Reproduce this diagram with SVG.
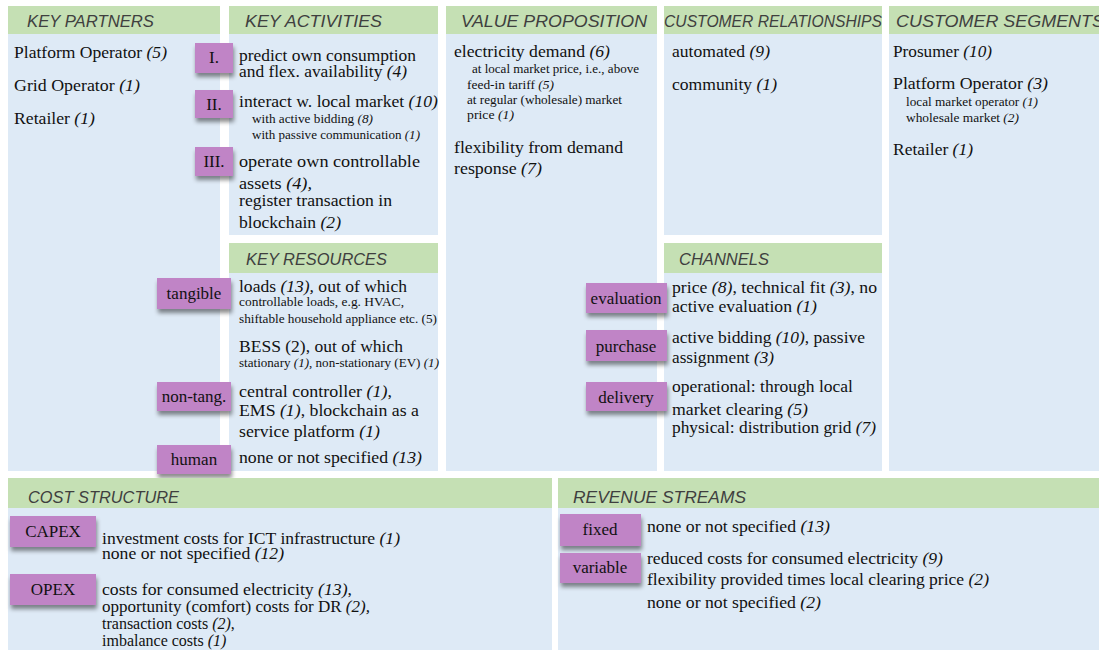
<svg xmlns="http://www.w3.org/2000/svg" width="1099" height="650" viewBox="0 0 1099 650">
<defs>
<filter id="sh" x="-20%" y="-20%" width="150%" height="170%">
<feDropShadow dx="1" dy="4" stdDeviation="2.2" flood-color="#000" flood-opacity="0.45"/>
</filter>
</defs>
<style>
.hd{fill:#C5E0B4}
.bd{fill:#DEEAF6}
.ht{font-family:"Liberation Sans",Arial,sans-serif;font-style:italic;font-size:17px;fill:#3F3F3F}
.t{font-family:"Liberation Serif","Times New Roman",serif;font-size:17px;fill:#111}
.c{font-family:"Liberation Serif","Times New Roman",serif;font-size:16px;fill:#111}
.s{font-family:"Liberation Serif","Times New Roman",serif;font-size:12.5px;fill:#111}
.i{font-style:italic}
.tag{fill:#C084C6;filter:url(#sh)}
.tt{font-family:"Liberation Serif","Times New Roman",serif;font-size:17px;fill:#111;text-anchor:middle}
</style>
<rect width="1099" height="650" fill="#FFFFFF"/>

<g id="key-partners">
<rect class="bd" x="8" y="6" width="212" height="465"/>
<rect class="hd" x="8" y="6" width="212" height="28"/>
<text class="ht" x="27" y="27" textLength="127" lengthAdjust="spacingAndGlyphs">KEY PARTNERS</text>
<text class="t" x="14" y="58" textLength="153" lengthAdjust="spacingAndGlyphs">Platform Operator <tspan class="i">(5)</tspan></text>
<text class="t" x="14" y="91" textLength="126" lengthAdjust="spacingAndGlyphs">Grid Operator <tspan class="i">(1)</tspan></text>
<text class="t" x="14" y="124" textLength="81" lengthAdjust="spacingAndGlyphs">Retailer <tspan class="i">(1)</tspan></text>
</g>

<g id="key-activities">
<rect class="bd" x="229" y="6" width="209" height="229"/>
<rect class="hd" x="229" y="6" width="209" height="28"/>
<text class="ht" x="245" y="27" textLength="137" lengthAdjust="spacingAndGlyphs">KEY ACTIVITIES</text>
<text class="t" x="239" y="61" textLength="177" lengthAdjust="spacingAndGlyphs">predict own consumption</text>
<text class="t" x="239" y="77" textLength="168" lengthAdjust="spacingAndGlyphs">and flex. availability <tspan class="i">(4)</tspan></text>
<text class="t" x="239" y="107" textLength="199" lengthAdjust="spacingAndGlyphs">interact w. local market <tspan class="i">(10)</tspan></text>
<text class="s" x="252" y="123" textLength="121" lengthAdjust="spacingAndGlyphs">with active bidding <tspan class="i">(8)</tspan></text>
<text class="s" x="252" y="139" textLength="168" lengthAdjust="spacingAndGlyphs">with passive communication <tspan class="i">(1)</tspan></text>
<text class="t" x="239" y="167" textLength="181" lengthAdjust="spacingAndGlyphs">operate own controllable</text>
<text class="t" x="239" y="189" textLength="73" lengthAdjust="spacingAndGlyphs">assets <tspan class="i">(4),</tspan></text>
<text class="t" x="239" y="206" textLength="153" lengthAdjust="spacingAndGlyphs">register transaction in</text>
<text class="t" x="239" y="228" textLength="102" lengthAdjust="spacingAndGlyphs">blockchain <tspan class="i">(2)</tspan></text>
</g>
<g id="tag-I"><rect class="tag" x="195" y="43" width="38" height="30"/><text class="tt" x="214" y="63">I.</text></g>
<g id="tag-II"><rect class="tag" x="195" y="90" width="38" height="28"/><text class="tt" x="214" y="110">II.</text></g>
<g id="tag-III"><rect class="tag" x="195" y="147" width="38" height="29"/><text class="tt" x="214" y="167">III.</text></g>

<g id="key-resources">
<rect class="bd" x="229" y="243" width="209" height="228"/>
<rect class="hd" x="229" y="243" width="209" height="30"/>
<text class="ht" x="246" y="265" textLength="141" lengthAdjust="spacingAndGlyphs">KEY RESOURCES</text>
<text class="t" x="239" y="292" textLength="168" lengthAdjust="spacingAndGlyphs">loads <tspan class="i">(13),</tspan> out of which</text>
<text class="s" x="239" y="306" textLength="165" lengthAdjust="spacingAndGlyphs">controllable loads, e.g. HVAC,</text>
<text class="s" x="239" y="323" textLength="198" lengthAdjust="spacingAndGlyphs">shiftable household appliance etc. (5)</text>
<text class="t" x="239" y="352" textLength="164" lengthAdjust="spacingAndGlyphs">BESS (2), out of which</text>
<text class="s" x="239" y="367" textLength="200" lengthAdjust="spacingAndGlyphs">stationary <tspan class="i">(1)</tspan>, non-stationary (EV) <tspan class="i">(1)</tspan></text>
<text class="t" x="239" y="397" textLength="153" lengthAdjust="spacingAndGlyphs">central controller <tspan class="i">(1)</tspan>,</text>
<text class="t" x="239" y="416" textLength="180" lengthAdjust="spacingAndGlyphs">EMS <tspan class="i">(1)</tspan>, blockchain as a</text>
<text class="t" x="239" y="437" textLength="141" lengthAdjust="spacingAndGlyphs">service platform <tspan class="i">(1)</tspan></text>
<text class="t" x="239" y="463" textLength="183" lengthAdjust="spacingAndGlyphs">none or not specified <tspan class="i">(13)</tspan></text>
</g>
<g id="tag-tangible"><rect class="tag" x="157" y="278" width="74" height="31"/><text class="tt" x="194" y="299">tangible</text></g>
<g id="tag-nontang"><rect class="tag" x="157" y="382" width="74" height="29"/><text class="tt" x="194" y="402">non-tang.</text></g>
<g id="tag-human"><rect class="tag" x="157" y="445" width="74" height="29"/><text class="tt" x="194" y="465">human</text></g>

<g id="value-proposition">
<rect class="bd" x="446" y="6" width="211" height="465"/>
<rect class="hd" x="446" y="6" width="211" height="28"/>
<text class="ht" x="461" y="27" textLength="186" lengthAdjust="spacingAndGlyphs">VALUE PROPOSITION</text>
<text class="t" x="454" y="57" textLength="156" lengthAdjust="spacingAndGlyphs">electricity demand <tspan class="i">(6)</tspan></text>
<text class="s" x="472" y="73" textLength="167" lengthAdjust="spacingAndGlyphs">at local market price, i.e., above</text>
<text class="s" x="467" y="89" textLength="87" lengthAdjust="spacingAndGlyphs">feed-in tariff <tspan class="i">(5)</tspan></text>
<text class="s" x="467" y="104" textLength="155" lengthAdjust="spacingAndGlyphs">at regular (wholesale) market</text>
<text class="s" x="467" y="119" textLength="47" lengthAdjust="spacingAndGlyphs">price <tspan class="i">(1)</tspan></text>
<text class="t" x="454" y="153" textLength="169" lengthAdjust="spacingAndGlyphs">flexibility from demand</text>
<text class="t" x="454" y="174" textLength="88" lengthAdjust="spacingAndGlyphs">response <tspan class="i">(7)</tspan></text>
</g>

<g id="customer-relationships">
<rect class="bd" x="664" y="6" width="218" height="229"/>
<rect class="hd" x="664" y="6" width="218" height="28"/>
<text class="ht" x="664" y="27" textLength="218" lengthAdjust="spacingAndGlyphs">CUSTOMER RELATIONSHIPS</text>
<text class="t" x="672" y="57" textLength="98" lengthAdjust="spacingAndGlyphs">automated <tspan class="i">(9)</tspan></text>
<text class="t" x="672" y="90" textLength="105" lengthAdjust="spacingAndGlyphs">community <tspan class="i">(1)</tspan></text>
</g>

<g id="channels">
<rect class="bd" x="664" y="243" width="218" height="228"/>
<rect class="hd" x="664" y="243" width="218" height="30"/>
<text class="ht" x="679" y="265" textLength="90" lengthAdjust="spacingAndGlyphs">CHANNELS</text>
<text class="t" x="672" y="293" textLength="205" lengthAdjust="spacingAndGlyphs">price <tspan class="i">(8)</tspan>, technical fit <tspan class="i">(3)</tspan>, no</text>
<text class="t" x="672" y="312" textLength="145" lengthAdjust="spacingAndGlyphs">active evaluation <tspan class="i">(1)</tspan></text>
<text class="t" x="672" y="343" textLength="193" lengthAdjust="spacingAndGlyphs">active bidding <tspan class="i">(10)</tspan>, passive</text>
<text class="t" x="672" y="363" textLength="102" lengthAdjust="spacingAndGlyphs">assignment <tspan class="i">(3)</tspan></text>
<text class="t" x="672" y="392" textLength="181" lengthAdjust="spacingAndGlyphs">operational: through local</text>
<text class="t" x="672" y="415" textLength="136" lengthAdjust="spacingAndGlyphs">market clearing <tspan class="i">(5)</tspan></text>
<text class="t" x="672" y="433" textLength="204" lengthAdjust="spacingAndGlyphs">physical: distribution grid <tspan class="i">(7)</tspan></text>
</g>
<g id="tag-evaluation"><rect class="tag" x="586" y="283" width="81" height="30"/><text class="tt" x="626" y="304">evaluation</text></g>
<g id="tag-purchase"><rect class="tag" x="586" y="330" width="81" height="31"/><text class="tt" x="626" y="352">purchase</text></g>
<g id="tag-delivery"><rect class="tag" x="586" y="382" width="81" height="29"/><text class="tt" x="626" y="403">delivery</text></g>

<g id="customer-segments">
<rect class="bd" x="889" y="6" width="210" height="465"/>
<rect class="hd" x="889" y="6" width="210" height="28"/>
<text class="ht" x="896" y="27" textLength="208" lengthAdjust="spacingAndGlyphs">CUSTOMER SEGMENTS</text>
<text class="t" x="893" y="57" textLength="99" lengthAdjust="spacingAndGlyphs">Prosumer <tspan class="i">(10)</tspan></text>
<text class="t" x="893" y="89" textLength="155" lengthAdjust="spacingAndGlyphs">Platform Operator <tspan class="i">(3)</tspan></text>
<text class="s" x="906" y="106" textLength="132" lengthAdjust="spacingAndGlyphs">local market operator <tspan class="i">(1)</tspan></text>
<text class="s" x="906" y="122" textLength="113" lengthAdjust="spacingAndGlyphs">wholesale market <tspan class="i">(2)</tspan></text>
<text class="t" x="893" y="155" textLength="80" lengthAdjust="spacingAndGlyphs">Retailer <tspan class="i">(1)</tspan></text>
</g>

<g id="cost-structure">
<rect class="bd" x="8" y="478" width="544" height="172"/>
<rect class="hd" x="8" y="478" width="544" height="30"/>
<text class="ht" x="28" y="503" textLength="151" lengthAdjust="spacingAndGlyphs">COST STRUCTURE</text>
<text class="c" x="102" y="544" textLength="298" lengthAdjust="spacingAndGlyphs">investment costs for ICT infrastructure <tspan class="i">(1)</tspan></text>
<text class="c" x="102" y="559" textLength="182" lengthAdjust="spacingAndGlyphs">none or not specified <tspan class="i">(12)</tspan></text>
<text class="c" x="102" y="595" textLength="250" lengthAdjust="spacingAndGlyphs">costs for consumed electricity <tspan class="i">(13)</tspan>,</text>
<text class="c" x="102" y="612" textLength="268" lengthAdjust="spacingAndGlyphs">opportunity (comfort) costs for DR <tspan class="i">(2),</tspan></text>
<text class="c" x="102" y="629">transaction costs <tspan class="i">(2)</tspan>,</text>
<text class="c" x="102" y="646">imbalance costs <tspan class="i">(1)</tspan></text>
</g>
<g id="tag-capex"><rect class="tag" x="10" y="516" width="86" height="31"/><text class="tt" x="53" y="537">CAPEX</text></g>
<g id="tag-opex"><rect class="tag" x="10" y="574" width="86" height="31"/><text class="tt" x="53" y="595">OPEX</text></g>

<g id="revenue-streams">
<rect class="bd" x="558" y="478" width="541" height="172"/>
<rect class="hd" x="558" y="478" width="541" height="30"/>
<text class="ht" x="573" y="503" textLength="173" lengthAdjust="spacingAndGlyphs">REVENUE STREAMS</text>
<text class="t" x="647" y="532" textLength="183" lengthAdjust="spacingAndGlyphs">none or not specified <tspan class="i">(13)</tspan></text>
<text class="t" x="647" y="564" textLength="296" lengthAdjust="spacingAndGlyphs">reduced costs for consumed electricity <tspan class="i">(9)</tspan></text>
<text class="t" x="647" y="585" textLength="342" lengthAdjust="spacingAndGlyphs">flexibility provided times local clearing price <tspan class="i">(2)</tspan></text>
<text class="t" x="647" y="608" textLength="174" lengthAdjust="spacingAndGlyphs">none or not specified <tspan class="i">(2)</tspan></text>
</g>
<g id="tag-fixed"><rect class="tag" x="560" y="514" width="81" height="32"/><text class="tt" x="600" y="535">fixed</text></g>
<g id="tag-variable"><rect class="tag" x="560" y="553" width="81" height="30"/><text class="tt" x="600" y="573">variable</text></g>

<g id="connectors"></g>
</svg>
